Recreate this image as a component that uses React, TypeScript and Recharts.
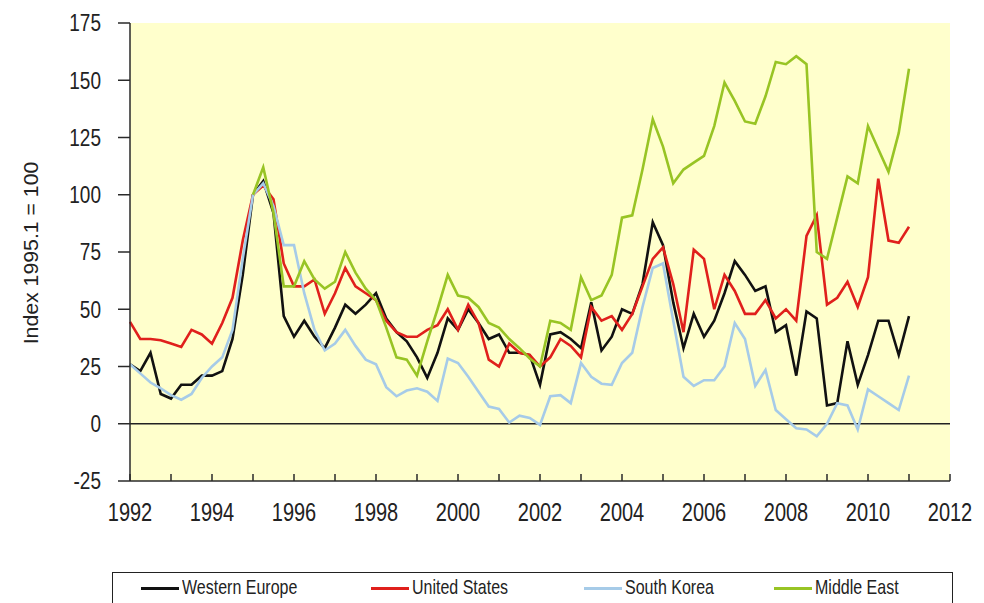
import React from "react"
import {
  LineChart,
  Line,
  XAxis,
  YAxis,
  CartesianGrid,
  ReferenceLine,
} from "recharts"

// quarterly observations, 1992Q1 .. 2011Q1
const quarters = Array.from({ length: 77 }, (_, i) => 1992 + i / 4)

const westernEurope = [
  26, 23, 31, 13, 11, 17, 17, 21, 21, 23,
  37, 65, 100, 106, 92, 47, 38, 45, 38, 33,
  42, 52, 48, 52, 57, 46, 40, 36, 29, 20,
  31, 46, 41, 50, 44, 37, 39, 31, 31, 30,
  17, 39, 40, 37, 33, 53, 32, 38, 50, 48,
  61, 88, 78, 53, 33, 48, 38, 45, 57, 71,
  65, 58, 60, 40, 43, 21, 49, 46, 8, 9,
  36, 17, 30, 45, 45, 30, 47,
]

const unitedStates = [
  44.5, 37, 37, 36.5, 35, 33.5, 41, 39, 35, 44,
  55, 80, 100, 104, 98, 70, 60, 60, 63, 48,
  57, 68, 60, 57, 54, 45, 40, 38, 38, 41,
  43, 50, 41, 52, 44, 28, 25, 35, 31, 30,
  25, 29, 37, 34, 29, 51, 45, 47, 41, 48,
  60, 72, 77, 61, 40, 76, 72, 50, 65, 58,
  48, 48, 54, 46, 50, 45, 82, 91, 52, 55,
  62, 51, 64, 107, 80, 79, 86,
]

const southKorea = [
  26, 22, 18, 15.5, 12.5, 10.5, 13, 20, 25, 29,
  41, 72, 100, 105, 95, 78, 78, 57, 41, 32,
  35, 41, 34, 28, 26, 16, 12, 14.5, 15.5, 14,
  10, 28.5, 26.5, 20.5, 14, 7.5, 6.5, 0.5, 3.5, 2.5,
  -0.5, 12, 12.5, 9, 26.5, 20.5, 17.5, 17, 26.5, 31,
  51, 68, 70, 45, 20.5, 16.5, 19, 19, 25, 44,
  37, 16.5, 23.5, 6, 2, -2, -2.5, -5.5, 0, 9,
  8, -2.5, 15, 12, 9, 6, 21,
]

const middleEast = [
  null, null, null, null, null, null, null, null, null, null,
  null, null, 100, 112, 92, 60, 60, 71, 63, 59,
  62, 75, 66, 59, 54, 42, 29, 28, 21, 36,
  50, 65, 56, 55, 51, 44, 42, 37, 33, 28.5,
  25, 45, 44, 41, 64, 54, 56, 65, 90, 91,
  111, 133, 121, 105, 111, 114, 117, 130, 149, 141,
  132, 131, 143, 158, 157, 160.5, 157, 75, 72, 90,
  108, 105, 130, 120, 110, 127, 155,
]

const xTicks = [
  1992, 1993, 1994, 1995, 1996, 1997, 1998, 1999, 2000, 2001, 2002,
  2003, 2004, 2005, 2006, 2007, 2008, 2009, 2010, 2011, 2012,
]
const yTicks = [-25, 0, 25, 50, 75, 100, 125, 150, 175]

const series = [
  { key: "we", name: "Western Europe", color: "#111111", values: westernEurope },
  { key: "us", name: "United States", color: "#E0201C", values: unitedStates },
  { key: "sk", name: "South Korea", color: "#A6CBE8", values: southKorea },
  { key: "me", name: "Middle East", color: "#98C424", values: middleEast },
]

const data = quarters.map((q, i) => {
  const row: Record<string, number | null> = { q }
  series.forEach((s) => {
    row[s.key] = s.values[i]
  })
  return row
})

const font = "'Liberation Sans', Arial, sans-serif"
const axisColor = "#2a2a2a"
const legendLeft = [28, 258, 471, 661]

const XTick = (props: any) => {
  const { x, y, payload } = props
  if (payload.value % 2 !== 0) return <g />
  return (
    <text
      transform={`translate(${x},${y}) scale(1,1.25)`}
      textAnchor="middle"
      dy="0.71em"
      fontSize={20}
      fontFamily={font}
      fill="#222"
    >
      {payload.value}
    </text>
  )
}

const YTick = (props: any) => {
  const { x, y, payload } = props
  return (
    <text
      transform={`translate(${x},${y}) scale(1,1.25)`}
      textAnchor="end"
      dy="0.355em"
      fontSize={19}
      fontFamily={font}
      fill="#222"
    >
      {payload.value}
    </text>
  )
}

const YLabel = () => (
  <text
    transform="translate(23,245) rotate(-90) scale(1.12,1.1)"
    textAnchor="middle"
    dominantBaseline="central"
    fontSize={19}
    fontFamily={font}
    fill="#222"
  >
    Index 1995.1 = 100
  </text>
)

export default function App() {
  return (
    <div
      style={{
        position: "absolute",
        left: 8,
        top: 8,
        width: 976,
        height: 595,
        overflow: "hidden",
        background: "white",
      }}
    >
      <LineChart
        width={976}
        height={595}
        data={data}
        margin={{ top: 15, right: 34, left: 0, bottom: 0 }}
      >
        <CartesianGrid horizontal={false} vertical={false} fill="#FFFFCC" />
        <XAxis
          dataKey="q"
          type="number"
          domain={[1992, 2012]}
          ticks={xTicks}
          interval={0}
          height={122}
          tick={XTick}
          tickSize={-7}
          tickMargin={29}
          stroke={axisColor}
          strokeWidth={1.5}
        />
        <XAxis
          xAxisId="top"
          orientation="top"
          type="number"
          domain={[1992, 2012]}
          height={0}
          tick={false}
          tickLine={false}
          stroke={axisColor}
          strokeWidth={1.5}
        />
        <YAxis
          domain={[-25, 175]}
          ticks={yTicks}
          interval={0}
          width={122}
          tick={YTick}
          tickSize={12}
          tickMargin={17}
          stroke={axisColor}
          strokeWidth={1.5}
          label={{ content: YLabel }}
        />
        <YAxis
          yAxisId="right"
          orientation="right"
          domain={[-25, 175]}
          width={0}
          tick={false}
          tickLine={false}
          stroke={axisColor}
          strokeWidth={1.5}
        />
        <ReferenceLine y={0} stroke="#222" strokeWidth={1.5} />
        {series.map((s) => (
          <Line
            key={s.key}
            dataKey={s.key}
            name={s.name}
            type="linear"
            stroke={s.color}
            strokeWidth={2.6}
            dot={false}
            connectNulls={false}
            isAnimationActive={false}
          />
        ))}
      </LineChart>
      <div
        style={{
          position: "absolute",
          left: 104,
          top: 564,
          width: 841,
          height: 40,
          border: "1.5px solid #222",
          boxSizing: "border-box",
          fontFamily: font,
          fontSize: 16,
          color: "#222",
        }}
      >
        {series.map((s, i) => (
          <div
            key={s.key}
            style={{
              position: "absolute",
              left: legendLeft[i],
              top: 6,
              display: "flex",
              alignItems: "center",
              whiteSpace: "nowrap",
            }}
          >
            <span
              style={{
                display: "inline-block",
                width: 38,
                height: 3,
                background: s.color,
                marginRight: 3,
              }}
            />
            <span style={{ display: "inline-block", transform: "scaleY(1.3)" }}>
              {s.name}
            </span>
          </div>
        ))}
      </div>
    </div>
  )
}
